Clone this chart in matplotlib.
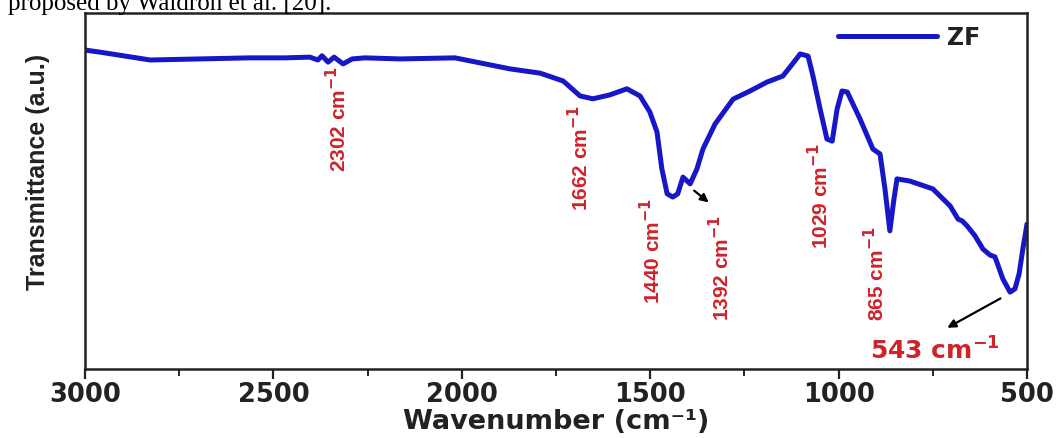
import matplotlib
matplotlib.use("Agg")
import matplotlib.pyplot as plt

# ---- data ----
wavenumber = [3000, 2960, 2827, 2695, 2562, 2469, 2403, 2382, 2371, 2355, 2339, 2315,
              2291, 2257, 2164, 2018, 1872, 1792, 1731, 1686, 1652, 1607, 1562, 1527,
              1501, 1482, 1469, 1455, 1440, 1427, 1413, 1394, 1376, 1360, 1328, 1280,
              1235, 1190, 1148, 1129, 1102, 1081, 1068, 1049, 1031, 1017, 1004, 991,
              977, 943, 909, 890, 877, 864, 853, 845, 811, 750, 704, 683, 672, 659,
              638, 617, 598, 585, 564, 545, 532, 521, 511, 503, 500]
transmittance = [89.6, 89.0, 86.8, 87.1, 87.4, 87.4, 87.6, 86.8, 88.0, 86.2, 87.6, 85.7,
                 87.1, 87.4, 87.1, 87.4, 84.3, 83.1, 80.9, 76.7, 75.9, 77.0, 78.7, 76.7,
                 72.2, 66.6, 56.2, 49.2, 48.3, 49.2, 53.9, 52.0, 56.2, 61.8, 68.8, 75.8,
                 78.1, 80.6, 82.3, 84.8, 88.5, 87.9, 82.3, 73.0, 64.6, 64.0, 73.0, 78.1,
                 77.8, 70.2, 61.8, 60.4, 50.6, 38.8, 47.8, 53.4, 52.8, 50.6, 45.8, 42.1,
                 41.6, 40.2, 37.4, 33.7, 32.0, 31.5, 25.3, 21.6, 22.5, 26.7, 33.7, 38.8, 40.7]
series_name = "ZF"
peak_labels = ["2302", "1662", "1440", "1392", "1029", "865"]
x_ticks = [3000, 2500, 2000, 1500, 1000, 500]

# ---- figure ----
fig = plt.figure(figsize=(10.61, 4.39), dpi=100)
ax = fig.add_axes([85/1061, 1 - 370/439, 942/1061, 356/439])

blue = "#1717c8"
red = "#d0222a"
dark = "#222222"
ax.plot(wavenumber, transmittance, color=blue, lw=3.6, solid_joinstyle="round",
        solid_capstyle="round", label=series_name)

ax.set_xlim(3000, 500)
ax.set_ylim(0, 100)
ax.set_xticks(x_ticks)
ax.set_xticks([2750, 2250, 1750, 1250, 750], minor=True)
ax.set_yticks([])
for s in ax.spines.values():
    s.set_linewidth(1.8)
    s.set_color(dark)
ax.tick_params(axis="x", which="major", direction="out", length=7, width=1.6, pad=2,
               colors=dark)
ax.tick_params(axis="x", which="minor", direction="out", length=5, width=1.4,
               colors=dark)
for lab in ax.get_xticklabels():
    lab.set_fontweight("bold")
    lab.set_fontsize(18.5)

ax.set_xlabel("Wavenumber (cm\u207b\u00b9)", fontsize=19.5, fontweight="bold",
              color=dark, va="top")
ax.xaxis.set_label_coords(0.5, -0.109)
sans = ["Liberation Sans", "DejaVu Sans"]
ax.set_ylabel("Transmittance (a.u.)", fontsize=18, family=sans, fontweight="bold",
              color=dark)
ax.yaxis.set_label_coords(-0.037, 0.556)

# rotated peak labels (x position in wavenumber, top edge in a.u.)
pos = {"2302": (2329, 85.4), "1662": (1687, 74.4), "1440": (1495, 48.3),
       "1392": (1312, 43.5), "1029": (1051, 63.8), "865": (901, 40.2)}
for p in peak_labels:
    x, y = pos[p]
    ax.text(x, y, p + " cm$^{\\mathbf{-1}}$", rotation=90, ha="center", va="top",
            color=red, fontsize=15, fontweight="bold", family=sans)

ax.text(745, 2.8, "543 cm$^{\\mathbf{-1}}$", ha="center", va="baseline", color=red,
        fontsize=18, fontweight="bold")

arrow = dict(arrowstyle="-|>", color="black", lw=1.6, mutation_scale=12)
ax.annotate("", xy=(1339, 46.3), xytext=(1389, 50.6), arrowprops=arrow)
ax.annotate("", xy=(718, 11.2), xytext=(564, 20.2), arrowprops=arrow)

leg = ax.legend(loc="upper right", bbox_to_anchor=(0.965, 1.005), frameon=False,
                handlelength=4.2, handletextpad=0.4, borderpad=0.1,
                prop={"weight": "bold", "size": 17})
for t in leg.get_texts():
    t.set_color(dark)

fig.text(8/1061, 1 - 10/439, "proposed by Waldron et al. [20].", ha="left",
         va="baseline", fontsize=18, family=["Liberation Serif", "DejaVu Serif"])

fig.savefig("out.png", dpi=100, facecolor="white")
